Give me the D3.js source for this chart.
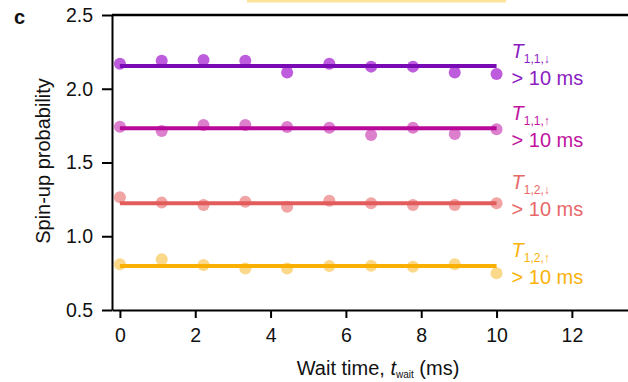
<!DOCTYPE html>
<html lang="en">
<head>
<meta charset="utf-8">
<title>Spin-up probability vs wait time</title>
<style>
  body { margin: 0; background: white; font-family: "Liberation Sans", Arial, sans-serif; }
  svg { display: block; }
  .axis path, .axis line { stroke: black; stroke-width: 2px; fill: none; }
  .axis text { font-family: "Liberation Sans", Arial, sans-serif; font-size: 19.5px; fill: #111; }
  .title { font-size: 20px; fill: #111; }
</style>
</head>
<body>
<script src="https://cdn.jsdelivr.net/npm/d3@7"></script>
<script>
// wait times (ms), 10 points from 0 to 10
var waitTimes = [0, 1.11, 2.22, 3.33, 4.44, 5.56, 6.67, 7.78, 8.89, 10];

var t11down = [2.17, 2.19, 2.195, 2.19, 2.11, 2.17, 2.15, 2.15, 2.11, 2.10];
var t11up   = [1.743, 1.714, 1.754, 1.754, 1.74, 1.736, 1.686, 1.736, 1.693, 1.725];
var t12down = [1.264, 1.228, 1.212, 1.234, 1.20, 1.241, 1.223, 1.212, 1.212, 1.223];
var t12up   = [0.81, 0.844, 0.805, 0.782, 0.782, 0.798, 0.80, 0.794, 0.81, 0.749];

// fitted constant levels
var fitLevels = [2.154, 1.732, 1.223, 0.798];
var subscripts = ["1,1,\u2193", "1,1,\u2191", "1,2,\u2193", "1,2,\u2191"];
var labelLevels = [2.208, 1.788, 1.320, 0.859]; // baseline of the "T" line of each label (data units)

var lineColors  = ["#7a0ab4", "#b8089a", "#e25c5c", "#f9b000"];
var pointColors = ["#bd5cdc", "#dc7fcd", "#f1a4a4", "#fbd98b"];
var textColors  = ["#8a1cc0", "#c0149e", "#e86868", "#f9b20a"];

var yTicks = [0.5, 1.0, 1.5, 2.0, 2.5];
var xTicks = [0, 2, 4, 6, 8, 10, 12];

var series = [t11down, t11up, t12down, t12up];

var fullwidth = 628, fullheight = 382;
var margin = { top: 15, right: 0, bottom: 72, left: 112 };
var width = fullwidth - margin.left - margin.right;
var height = fullheight - margin.top - margin.bottom;

var svg = d3.select("body").append("svg")
    .attr("width", fullwidth)
    .attr("height", fullheight);

// bit of the neighbouring panel peeking in at the top
svg.append("rect")
    .attr("x", 247).attr("y", 0)
    .attr("width", 259).attr("height", 2.5)
    .attr("fill", "#fce39a");

var g = svg.append("g")
    .attr("transform", "translate(" + margin.left + "," + margin.top + ")");

var xScale = d3.scaleLinear().domain([-0.21, 13.49]).range([0, width]);
var yScale = d3.scaleLinear().domain([0.5, 2.5]).range([height, 0]);

var xAxis = d3.axisBottom(xScale).tickValues(xTicks).tickSize(8).tickSizeOuter(0).tickPadding(10);
var yAxis = d3.axisLeft(yScale).tickValues(yTicks).tickSize(10).tickSizeOuter(0).tickPadding(9)
    .tickFormat(d3.format(".1f"));

g.append("g")
    .attr("class", "x axis")
    .attr("transform", "translate(0," + height + ")")
    .call(xAxis);

g.append("g")
    .attr("class", "y axis")
    .call(yAxis);

// top spine
g.append("line")
    .attr("x1", 0).attr("x2", width)
    .attr("y1", 0).attr("y2", 0)
    .attr("stroke", "black").attr("stroke-width", 2.5);

// points first, fit lines on top
series.forEach(function(vals, i) {
    g.selectAll(".dot" + i)
        .data(vals)
        .enter()
        .append("circle")
        .attr("class", "dot" + i)
        .attr("cx", function(d, j) { return xScale(waitTimes[j]); })
        .attr("cy", function(d) { return yScale(d); })
        .attr("r", 6)
        .attr("fill", pointColors[i]);
});

g.selectAll(".fit")
    .data(fitLevels)
    .enter()
    .append("line")
    .attr("class", "fit")
    .attr("x1", xScale(waitTimes[0]))
    .attr("x2", xScale(waitTimes[waitTimes.length - 1]))
    .attr("y1", function(d) { return yScale(d); })
    .attr("y2", function(d) { return yScale(d); })
    .attr("stroke", function(d, i) { return lineColors[i]; })
    .attr("stroke-width", 4);

// labels
var labelX = xScale(10) + 15;
labelLevels.forEach(function(lv, i) {
    var y = yScale(lv);
    var t = g.append("text")
        .attr("x", labelX)
        .attr("y", y)
        .attr("fill", textColors[i])
        .style("font-size", "20px");
    t.append("tspan").style("font-style", "italic").text("T");
    t.append("tspan").attr("dy", 5).style("font-size", "12px").text(subscripts[i]);
    g.append("text")
        .attr("x", labelX)
        .attr("y", y + 27)
        .attr("fill", textColors[i])
        .style("font-size", "20px")
        .text("> 10 ms");
});

// axis titles
var xt = svg.append("text")
    .attr("class", "title")
    .attr("x", 378)
    .attr("y", 375)
    .style("text-anchor", "middle");
xt.append("tspan").text("Wait time, ");
xt.append("tspan").style("font-style", "italic").text("t");
xt.append("tspan").attr("dy", 3).style("font-size", "10px").text("wait");
xt.append("tspan").attr("dy", -3).text(" (ms)");

svg.append("text")
    .attr("class", "title")
    .attr("transform", "translate(50," + 161 + ") rotate(-90)")
    .style("text-anchor", "middle")
    .text("Spin-up probability");

svg.append("text")
    .attr("x", 14)
    .attr("y", 24)
    .style("font-weight", "bold")
    .style("font-size", "20px")
    .attr("fill", "#111")
    .text("c");
</script>
</body>
</html>
